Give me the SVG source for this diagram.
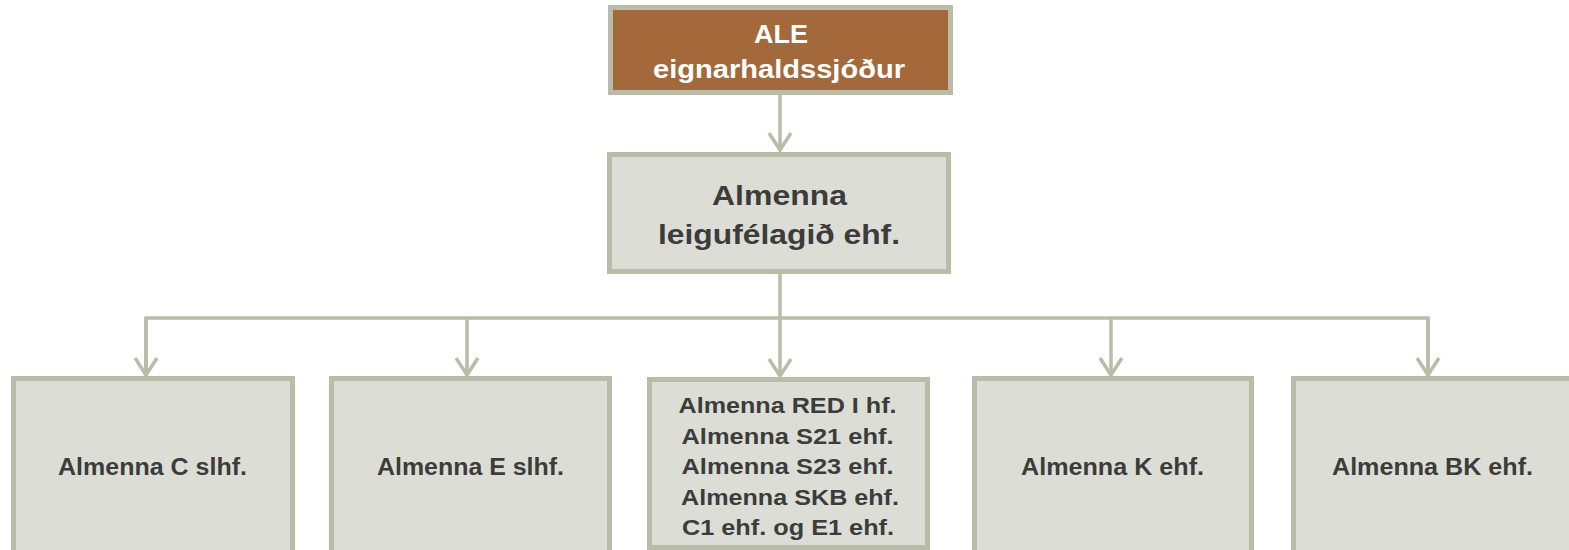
<svg xmlns="http://www.w3.org/2000/svg" width="1569" height="550" viewBox="0 0 1569 550">
<style>
.box{fill:#DCDED6;stroke:#B9BCA9;stroke-width:5}
.top{fill:#A4693A;stroke:#B9BCA9;stroke-width:5}
.t{font-family:"Liberation Sans",Arial,sans-serif;font-weight:bold;fill:#3C3C3C;text-anchor:middle}
.w{fill:#FFFFFF}
.c{fill:none;stroke:#B9BCA9;stroke-width:3.5}
</style>
<defs>
<marker id="ah" markerUnits="userSpaceOnUse" markerWidth="30" markerHeight="30" viewBox="-20 -15 30 30" refX="0" refY="0" orient="auto" overflow="visible">
<path d="M-17,-11 L0,0 L-17,11" fill="none" stroke="#B9BCA9" stroke-width="3.5"/>
</marker>
</defs>
<rect width="1569" height="550" fill="#FFFFFF"/>
<g id="connectors">
<path class="c" d="M780,95 V150" marker-end="url(#ah)"/>
<path class="c" d="M780,274 V376" marker-end="url(#ah)"/>
<path class="c" d="M146,376 V318 H1428 V376"/>
<path class="c" d="M146,318 V375" marker-end="url(#ah)"/>
<path class="c" d="M467,318 V375" marker-end="url(#ah)"/>
<path class="c" d="M1111,318 V375" marker-end="url(#ah)"/>
<path class="c" d="M1428,318 V375" marker-end="url(#ah)"/>
</g>
<g id="ale">
<rect class="top" x="610.5" y="7.5" width="340" height="85"/>
<text class="t w" x="781" y="43" font-size="25.5" textLength="54" lengthAdjust="spacingAndGlyphs">ALE</text>
<text class="t w" x="779" y="78" font-size="25.5" textLength="252" lengthAdjust="spacingAndGlyphs">eignarhaldssjóður</text>
</g>
<g id="leigufelagid">
<rect class="box" x="609.5" y="154.5" width="339" height="117"/>
<text class="t" x="779.5" y="205" font-size="28.5" textLength="135" lengthAdjust="spacingAndGlyphs">Almenna</text>
<text class="t" x="779" y="244" font-size="28.5" textLength="242" lengthAdjust="spacingAndGlyphs">leigufélagið ehf.</text>
</g>
<g id="almenna-c">
<rect class="box" x="13.5" y="378.5" width="279" height="200"/>
<text class="t" x="152.5" y="475" font-size="23" textLength="189" lengthAdjust="spacingAndGlyphs">Almenna C slhf.</text>
</g>
<g id="almenna-e">
<rect class="box" x="331.5" y="378.5" width="278" height="200"/>
<text class="t" x="470.5" y="475" font-size="23" textLength="187" lengthAdjust="spacingAndGlyphs">Almenna E slhf.</text>
</g>
<g id="almenna-group">
<rect class="box" x="649.5" y="379.5" width="278" height="168"/>
<text class="t" x="787.5" y="413" font-size="21.5" textLength="218" lengthAdjust="spacingAndGlyphs">Almenna RED I hf.</text>
<text class="t" x="787.5" y="443.5" font-size="21.5" textLength="212" lengthAdjust="spacingAndGlyphs">Almenna S21 ehf.</text>
<text class="t" x="787.5" y="474" font-size="21.5" textLength="212" lengthAdjust="spacingAndGlyphs">Almenna S23 ehf.</text>
<text class="t" x="790" y="504.5" font-size="21.5" textLength="218" lengthAdjust="spacingAndGlyphs">Almenna SKB ehf.</text>
<text class="t" x="788" y="535" font-size="21.5" textLength="212" lengthAdjust="spacingAndGlyphs">C1 ehf. og E1 ehf.</text>
</g>
<g id="almenna-k">
<rect class="box" x="974.5" y="378.5" width="277" height="200"/>
<text class="t" x="1112.5" y="475" font-size="23" textLength="183" lengthAdjust="spacingAndGlyphs">Almenna K ehf.</text>
</g>
<g id="almenna-bk">
<rect class="box" x="1293.5" y="378.5" width="279" height="200"/>
<text class="t" x="1432.5" y="475" font-size="23" textLength="201" lengthAdjust="spacingAndGlyphs">Almenna BK ehf.</text>
</g>
</svg>
